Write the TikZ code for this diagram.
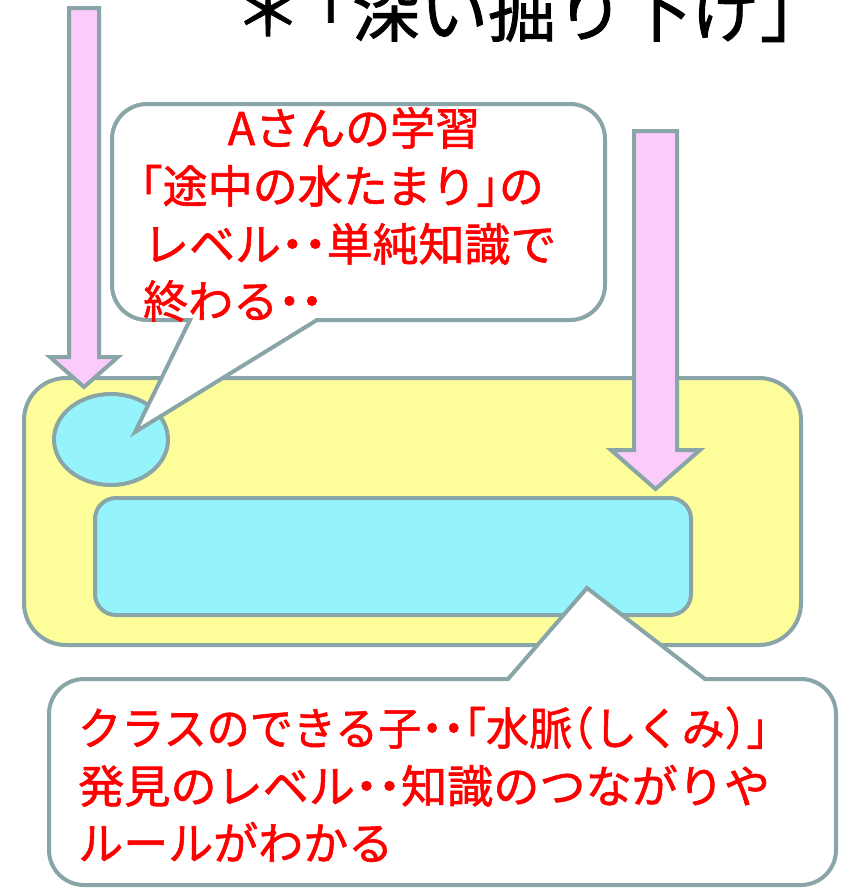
\documentclass[tikz,border=0pt]{standalone}
\usepackage{fontspec}
\newfontfamily\jp[RawFeature={+halt},FakeBold=1.3]{Noto Sans CJK JP}
\newfontfamily\jpt[FakeBold=1.3]{Noto Sans CJK JP}
\definecolor{edgec}{HTML}{8AA5A8}
\definecolor{pinkf}{HTML}{FBCBFB}
\definecolor{yelf}{HTML}{FDFD99}
\definecolor{cyanf}{HTML}{95F3FC}
\definecolor{redt}{HTML}{FF0000}
\tikzset{
  shp/.style={draw=edgec, line width=4pt, line join=miter},
  bigarrow/.style={shp, fill=pinkf},
  bubble/.style={shp, fill=white},
  redtxt/.style={inner sep=0pt, text=redt, font=\jp\fontsize{45}{45}\selectfont},
  titletxt/.style={inner sep=0pt, text=black, font=\jp\fontsize{68}{68}\selectfont},
}
\begin{document}
\begin{tikzpicture}[x=1pt,y=-1pt]
\useasboundingbox (0,0) rectangle (844,889);
\clip (0,0) rectangle (844,889);
\fill[white] (0,0) rectangle (844,889);

% title (top cut off, as in the reference)
\node[titletxt, anchor=base] (title) at (514,36) {＊\kern16pt「深い掘り下げ」};

% yellow field
\draw[shp, fill=yelf, rounded corners=42] (24,378) rectangle (801,645);
% puddle (ellipse) and vein (rectangle)
\draw[shp, fill=cyanf] (111,439.5) ellipse [x radius=57, y radius=45.5];
\draw[shp, fill=cyanf, rounded corners=21] (95,498) rectangle (691,615);

% arrows
\draw[bigarrow] (69,8) -- (99,8) -- (99,357) -- (118,357) -- (84,387) -- (50,357) -- (69,357) -- cycle;
\draw[bigarrow] (634,131) -- (677,131) -- (677,450) -- (700,450) -- (655.5,489) -- (611,450) -- (634,450) -- cycle;

% top callout
\draw[bubble] (147,104) -- (570,104) arc[start angle=-90,end angle=0,radius=35]
  -- (605,285) arc[start angle=0,end angle=90,radius=35]
  -- (317,320) -- (135,432) -- (190,320)
  -- (147,320) arc[start angle=90,end angle=180,radius=35]
  -- (112,139) arc[start angle=180,end angle=270,radius=35] -- cycle;

% bottom callout
\draw[bubble] (84,679) -- (508,679) -- (587,588) -- (705,679)
  -- (801,679) arc[start angle=-90,end angle=0,radius=35]
  -- (836,850) arc[start angle=0,end angle=90,radius=35]
  -- (84,885) arc[start angle=90,end angle=180,radius=35]
  -- (49,714) arc[start angle=180,end angle=270,radius=35] -- cycle;

% texts
\node[redtxt, anchor=base] (ta) at (354,145) {Aさんの学習};
\node[redtxt, anchor=base west] (tb) at (140,203) {「途中の水たまり」の};
\node[redtxt, anchor=base west] (tc) at (143,261) {\scalebox{1.02}[1]{レベル・・単純知識で}};
\node[redtxt, anchor=base west] (td) at (143,318) {終わる・・};

\node[redtxt, anchor=base west] (ba) at (78,745) {\scalebox{0.958}[1]{クラスのできる子・・「水脈（しくみ）」}};
\node[redtxt, anchor=base west] (bb) at (78,803) {\scalebox{1.025}[1]{発見のレベル・・知識のつながりや}};
\node[redtxt, anchor=base west] (bc) at (78,860) {ルールがわかる};
\end{tikzpicture}
\end{document}
